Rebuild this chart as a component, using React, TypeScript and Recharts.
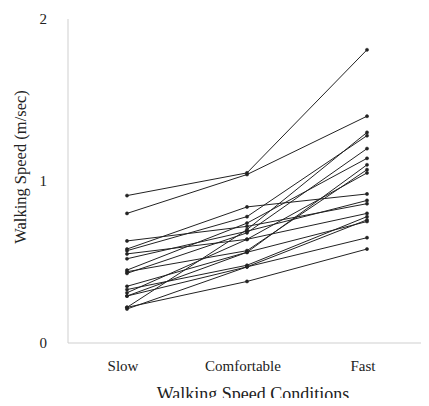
import { LineChart, Line, XAxis, YAxis, Label } from 'recharts';

// walking speed per subject (m/sec), one entry per subject, same order in each array
const categories = ['Slow', 'Comfortable', 'Fast'];
const slowSpeeds = [0.91, 0.8, 0.63, 0.58, 0.57, 0.55, 0.52, 0.45, 0.44, 0.43, 0.35, 0.33, 0.31, 0.29, 0.29, 0.22, 0.21, 0.22];
const comfortableSpeeds = [1.05, 1.04, 0.72, 0.84, 0.78, 0.64, 0.69, 0.74, 0.57, 0.68, 0.56, 0.48, 0.64, 0.47, 0.56, 0.38, 0.47, 0.7];
const fastSpeeds = [1.81, 1.4, 0.86, 0.92, 1.28, 0.8, 0.88, 1.14, 1.07, 1.2, 1.1, 0.78, 1.05, 0.76, 0.75, 0.58, 0.65, 1.3];
const yTicks = [0, 1, 2];

const bySeries = [slowSpeeds, comfortableSpeeds, fastSpeeds];
const subjectKeys = slowSpeeds.map((_, i) => `s${i + 1}`);
const data = categories.map((name, c) => {
  const row: Record<string, string | number> = { name };
  subjectKeys.forEach((k, i) => {
    row[k] = bySeries[c][i];
  });
  return row;
});

const font = 'Liberation Serif, Times New Roman, DejaVu Serif, serif';
const ink = '#222';

export default function App() {
  return (
    <div style={{ margin: -8, width: 429, height: 406, background: '#fff' }}>
      <LineChart
        width={429}
        height={406}
        data={data}
        margin={{ top: 19, right: 4, bottom: 33, left: 0 }}
        style={{ fontFamily: font }}
      >
        <XAxis
          dataKey="name"
          height={30}
          padding={{ left: 59, right: 58 }}
          stroke="#cfcfcf"
          tickLine={false}
          tickMargin={11}
          tick={{ fill: ink, fontSize: 15, fontFamily: font, dx: -4 }}
        >
          <Label
            content={() => (
              <text x={253} y={400} textAnchor="middle" fill={ink} fontSize={18} style={{ fontFamily: font }}>
                Walking Speed Conditions
              </text>
            )}
          />
        </XAxis>
        <YAxis
          width={68}
          domain={[0, 2]}
          ticks={yTicks}
          stroke="#cfcfcf"
          tickLine={false}
          tickMargin={15}
          tick={{ fill: ink, fontSize: 15, fontFamily: font }}
        >
          <Label
            content={() => (
              <text
                x={22}
                y={167}
                textAnchor="middle"
                dominantBaseline="middle"
                transform="rotate(-90 22 167)"
                fill={ink}
                fontSize={16.5}
                style={{ fontFamily: font }}
              >
                Walking Speed (m/sec)
              </text>
            )}
          />
        </YAxis>
        {subjectKeys.map((k) => (
          <Line
            key={k}
            dataKey={k}
            type="linear"
            stroke={ink}
            strokeWidth={1}
            dot={{ r: 1.6, fill: ink, stroke: ink, strokeWidth: 0.5 }}
            activeDot={false}
            isAnimationActive={false}
          />
        ))}
      </LineChart>
    </div>
  );
}
